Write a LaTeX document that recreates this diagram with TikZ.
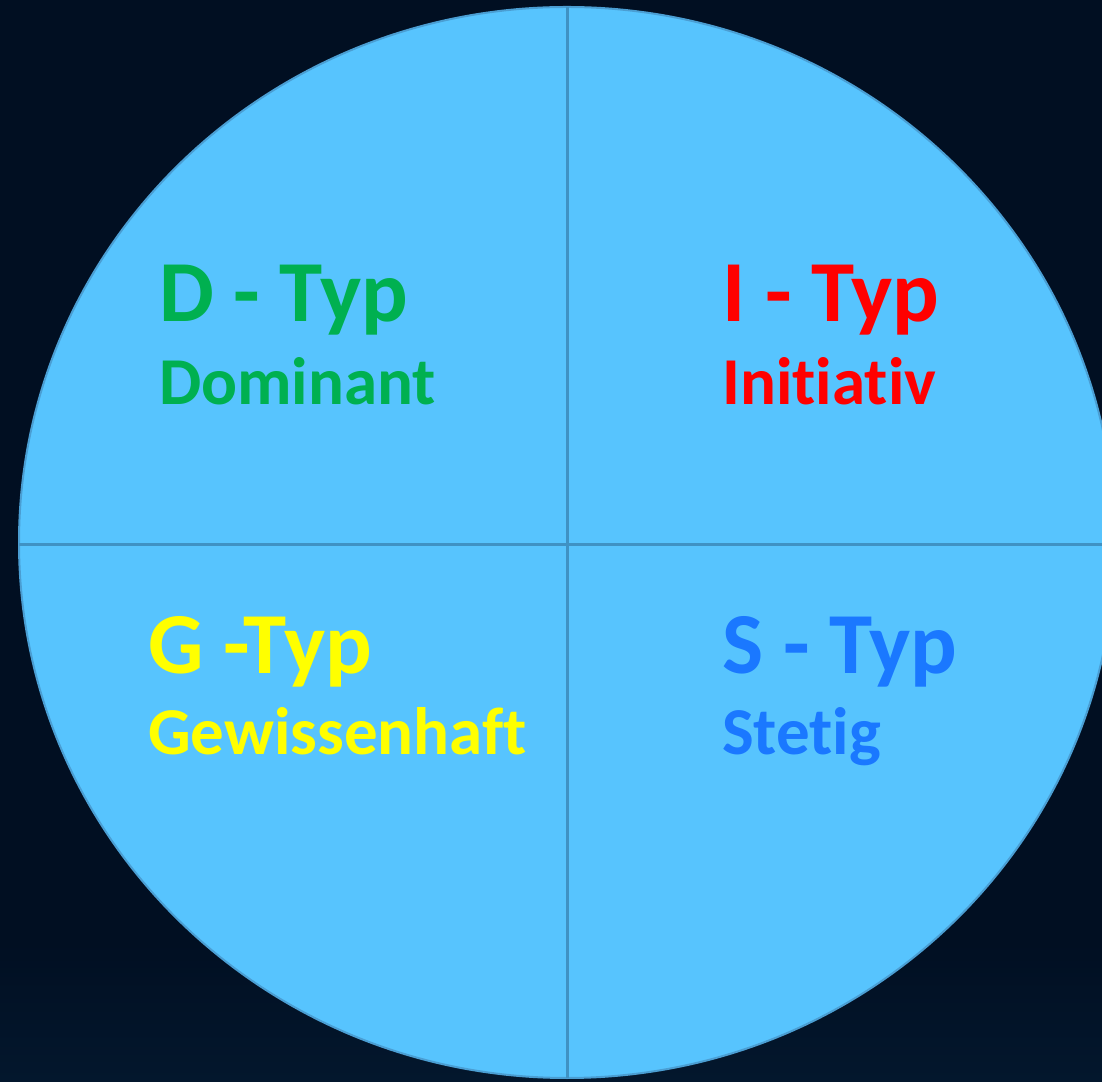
\documentclass[tikz,border=0pt]{standalone}
\usepackage{fontspec}
\setmainfont{Carlito}[Ligatures={NoCommon,NoRare,NoContextual}]
\usetikzlibrary{shapes.geometric}

\definecolor{bgnavy}{HTML}{010F22}
\definecolor{bgnavylow}{HTML}{03172D}
\definecolor{discfill}{HTML}{57C4FE}
\definecolor{discrim}{HTML}{4A9ED3}
\definecolor{divider}{HTML}{3F92C4}
\definecolor{dgreen}{HTML}{00B050}
\definecolor{ired}{HTML}{FF0000}
\definecolor{gyellow}{HTML}{FFFF00}
\definecolor{sblue}{HTML}{1A78FF}

\tikzset{
  typetitle/.style={anchor=base west, inner sep=0pt, font=\bfseries\fontsize{87}{87}\selectfont},
  typesub/.style={anchor=base west, inner sep=0pt, font=\bfseries\fontsize{67}{67}\selectfont},
  divline/.style={draw=divider, line width=3pt},
}

\begin{document}
\begin{tikzpicture}[x=1pt,y=1pt]
  \useasboundingbox (0,0) rectangle (1102,1081);
  \clip (0,0) rectangle (1102,1081);

  % dark backdrop, a little lighter towards the bottom edge
  \fill[bgnavy] (0,0) rectangle (1102,1081);
  \shade[bottom color=bgnavylow, top color=bgnavy] (0,0) rectangle (1102,140);

  % the disc
  \node[ellipse, draw=discrim, line width=2pt, fill=discfill,
        minimum width=1096pt, minimum height=1071pt, inner sep=0pt, outer sep=0pt]
        (disc) at (567,538.5) {};

  % quadrant dividers
  \coordinate (hl) at (disc.west);
  \coordinate (hr) at (disc.east);
  \draw[divline] (disc.north) -- (disc.south);
  \draw[divline] (hl |- 0,536) -- (hr |- 0,536);

  % quadrant labels
  \node[typetitle, text=dgreen] (dtitle) at (159,759) {D - Typ};
  \node[typesub,   text=dgreen] (dsub)   at (159,676) {Dominant};

  \node[typetitle, text=ired] (ititle) at (722,759) {I - Typ};
  \node[typesub,   text=ired] (isub)   at (722,676) {Initiativ};

  \node[typetitle, text=gyellow] (gtitle) at (148,407) {G -Typ};
  \node[typesub,   text=gyellow] (gsub)   at (148,326) {Gewissenhaft};

  \node[typetitle, text=sblue] (stitle) at (722,407) {S - Typ};
  \node[typesub,   text=sblue] (ssub)   at (722,326) {Stetig};
\end{tikzpicture}
\end{document}
